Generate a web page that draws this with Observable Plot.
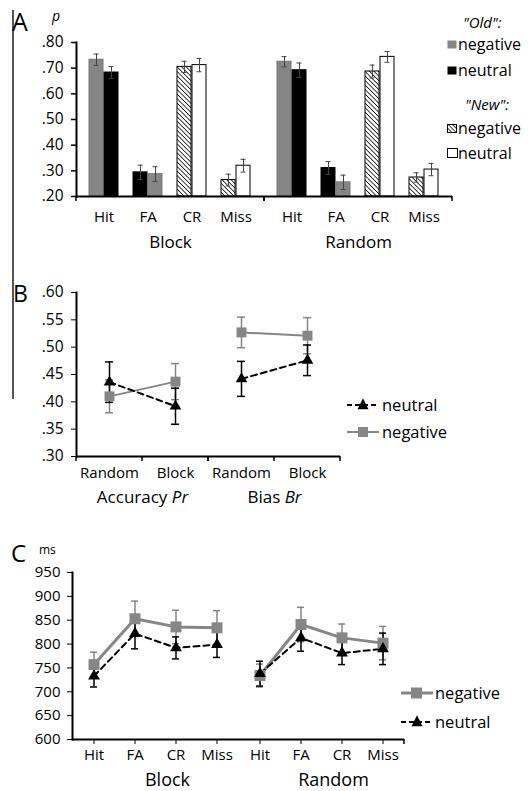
<!DOCTYPE html>
<html><head><meta charset="utf-8">
<script src="https://cdn.jsdelivr.net/npm/d3@7"></script>
<script src="https://cdn.jsdelivr.net/npm/@observablehq/plot@0.6"></script>
<style>
body{margin:0;background:#fff;font-family:"Open Sans",sans-serif;}
#root{position:relative;width:530px;height:791px;overflow:hidden;background:#fff;}
.abs{position:absolute;white-space:nowrap;color:#000;font-family:"Open Sans",sans-serif;}
</style></head><body><div id="root"></div>
<script>
// ---------- Panel A: proportions ----------
const groupsA = ["Block", "Random"];
const responsesA = ["Hit", "FA", "CR", "Miss"];
const responseTypeA = ["old", "old", "new", "new"];
const leftEmotionA = ["negative", "neutral", "negative", "negative"];
const negBlockA = [0.733, 0.287, 0.705, 0.264];
const neuBlockA = [0.683, 0.294, 0.712, 0.320];
const negRandomA = [0.725, 0.255, 0.687, 0.274];
const neuRandomA = [0.692, 0.311, 0.744, 0.305];
const errNegBlockA = [0.022, 0.029, 0.022, 0.023];
const errNeuBlockA = [0.023, 0.028, 0.026, 0.025];
const errNegRandomA = [0.020, 0.028, 0.025, 0.018];
const errNeuRandomA = [0.028, 0.025, 0.021, 0.024];
const yTicksA = [0.2, 0.3, 0.4, 0.5, 0.6, 0.7, 0.8];

// ---------- Panel B: Pr / Br ----------
const measuresB = ["Accuracy", "Bias"];
const measureNamesB = ["Accuracy", "Bias"];
const measureSymbolsB = ["Pr", "Br"];
const conditionsB = ["Random", "Block"];
const neuAccuracyB = [0.436, 0.392];
const neuBiasB = [0.442, 0.476];
const negAccuracyB = [0.410, 0.437];
const negBiasB = [0.527, 0.521];
const errNeuAccuracyB = [0.037, 0.033];
const errNeuBiasB = [0.032, 0.028];
const errNegAccuracyB = [0.030, 0.033];
const errNegBiasB = [0.028, 0.033];
const yTicksB = [0.30, 0.35, 0.40, 0.45, 0.50, 0.55, 0.60];

// ---------- Panel C: RTs ----------
const groupsC = ["Block", "Random"];
const responsesC = ["Hit", "FA", "CR", "Miss"];
const negBlockC = [757, 853, 836, 834];
const negRandomC = [734, 841, 813, 802];
const neuBlockC = [733, 822, 792, 799];
const neuRandomC = [738, 813, 781, 790];
const errNegBlockC = [26, 37, 35, 36];
const errNegRandomC = [24, 36, 29, 35];
const errNeuBlockC = [23, 32, 23, 27];
const errNeuRandomC = [26, 28, 24, 33];
const yTicksC = [600, 650, 700, 750, 800, 850, 900, 950];

const GRAY = "#868686";
const FONT = "'Open Sans', sans-serif";
const fmtDot = d => d.toFixed(2).slice(1);

// ---------- build rows ----------
const rowsA = [];
groupsA.forEach(group => {
  const neg = group === "Block" ? negBlockA : negRandomA;
  const neu = group === "Block" ? neuBlockA : neuRandomA;
  const eNeg = group === "Block" ? errNegBlockA : errNegRandomA;
  const eNeu = group === "Block" ? errNeuBlockA : errNeuRandomA;
  responsesA.forEach((response, i) => {
    ["negative", "neutral"].forEach(emotion => {
      rowsA.push({
        group, response, emotion, type: responseTypeA[i],
        side: emotion === leftEmotionA[i] ? "left" : "right",
        value: emotion === "negative" ? neg[i] : neu[i],
        err: emotion === "negative" ? eNeg[i] : eNeu[i]
      });
    });
  });
});
const fillA = d => d.type === "old" ? (d.emotion === "negative" ? GRAY : "#000")
                                    : (d.emotion === "negative" ? "url(#hatchA)" : "#fff");
const strokeA = d => d.type === "old" && d.emotion === "negative" ? "#777" : "#000";
const leftA = rowsA.filter(d => d.side === "left");
const rightA = rowsA.filter(d => d.side === "right");

const rowsB = [];
measuresB.forEach((measure, m) => conditionsB.forEach((condition, i) => {
  rowsB.push({measure, condition, emotion: "negative",
    value: (m ? negBiasB : negAccuracyB)[i], err: (m ? errNegBiasB : errNegAccuracyB)[i]});
  rowsB.push({measure, condition, emotion: "neutral",
    value: (m ? neuBiasB : neuAccuracyB)[i], err: (m ? errNeuBiasB : errNeuAccuracyB)[i]});
}));
const negB = rowsB.filter(d => d.emotion === "negative");
const neuB = rowsB.filter(d => d.emotion === "neutral");

const rowsC = [];
groupsC.forEach(group => responsesC.forEach((response, i) => {
  const b = group === "Block";
  rowsC.push({group, response, emotion: "negative", value: (b ? negBlockC : negRandomC)[i], err: (b ? errNegBlockC : errNegRandomC)[i]});
  rowsC.push({group, response, emotion: "neutral", value: (b ? neuBlockC : neuRandomC)[i], err: (b ? errNeuBlockC : errNeuRandomC)[i]});
}));
const negC = rowsC.filter(d => d.emotion === "negative");
const neuC = rowsC.filter(d => d.emotion === "neutral");

// ---------- helpers ----------
function bandEdgeTicks(allBands) {
  return (index, scales, values, dims) => {
    const x = scales.x;
    const [r0, r1] = x.range();
    const y0 = dims.height - dims.marginBottom;
    const xs = allBands ? x.domain().map(d => x(d)).concat([r1]) : [r0, r1];
    const g = d3.create("svg:g").attr("stroke", "#000").attr("stroke-width", 1.5);
    xs.forEach(v => g.append("line").attr("x1", v).attr("x2", v).attr("y1", y0).attr("y2", y0 + 5));
    return g.node();
  };
}
// tick at the far right end of the axis (drawn only in the last facet)
function lastEdgeTick(nFacets) {
  let calls = 0;
  return (index, scales, values, dims) => {
    calls++;
    const g = d3.create("svg:g").attr("stroke", "#000").attr("stroke-width", 1.5);
    if (calls % nFacets === 0) {
      const r1 = scales.x.range()[1];
      const y0 = dims.height - dims.marginBottom;
      g.append("line").attr("x1", r1).attr("x2", r1).attr("y1", y0).attr("y2", y0 + 5);
    }
    return g.node();
  };
}
function errorMarks(data, opts, color, dx, capInsetL, capInsetR, width) {
  return [
    Plot.ruleX(data, {...opts, y1: d => d.value - d.err, y2: d => d.value + d.err, dx, stroke: color, strokeWidth: width}),
    Plot.tickY(data, {...opts, y: d => d.value + d.err, insetLeft: capInsetL, insetRight: capInsetR, stroke: color, strokeWidth: width}),
    Plot.tickY(data, {...opts, y: d => d.value - d.err, insetLeft: capInsetL, insetRight: capInsetR, stroke: color, strokeWidth: width})
  ];
}

const root = document.getElementById("root");

// ---------- Plot A ----------
const plotA = Plot.plot({
  width: 530, height: 250,
  marginLeft: 75, marginRight: 78, marginTop: 42, marginBottom: 54,
  style: {fontFamily: FONT, background: "transparent", overflow: "visible"},
  fx: {domain: groupsA, padding: 0},
  x: {domain: responsesA, paddingInner: 0.333, paddingOuter: 0.26},
  y: {domain: [yTicksA[0], yTicksA[yTicksA.length - 1]]},
  color: {type: "identity"},
  marks: [
    Plot.barY(leftA, {fx: "group", x: "response", y1: yTicksA[0], y2: "value", fill: fillA, stroke: strokeA, strokeWidth: 1, insetRight: 15}),
    Plot.barY(rightA, {fx: "group", x: "response", y1: yTicksA[0], y2: "value", fill: fillA, stroke: strokeA, strokeWidth: 1, insetLeft: 15}),
    ...errorMarks(leftA, {fx: "group", x: "response"}, "#444", -7.5, 4.5, 19.5, 1),
    ...errorMarks(rightA, {fx: "group", x: "response"}, "#444", 7.5, 19.5, 4.5, 1),
    Plot.ruleY([yTicksA[0]], {stroke: "#000", strokeWidth: 2}),
    Plot.frame({anchor: "left", facetAnchor: "left", stroke: "#000", strokeWidth: 2}),
    bandEdgeTicks(false),
    Plot.axisY({ticks: yTicksA, tickFormat: fmtDot, tickSize: 5, tickPadding: 8, fontSize: 15.5, label: null, strokeWidth: 1.5}),
    Plot.axisX({tickSize: 0, tickPadding: 15, fontSize: 15, label: null}),
    Plot.axisFx({anchor: "bottom", tickSize: 0, tickPadding: 39, fontSize: 17, label: null})
  ]
});
const defs = d3.select(plotA).insert("defs", ":first-child");
const pat = defs.append("pattern").attr("id", "hatchA").attr("patternUnits", "userSpaceOnUse")
  .attr("width", 3.2).attr("height", 3.2).attr("patternTransform", "rotate(-45)");
pat.append("rect").attr("width", 3.2).attr("height", 3.2).attr("fill", "#fff");
pat.append("line").attr("x1", 0).attr("y1", 0).attr("x2", 0).attr("y2", 3.2).attr("stroke", "#000").attr("stroke-width", 1.5);
plotA.style.position = "absolute"; plotA.style.left = "0px"; plotA.style.top = "0px";
root.appendChild(plotA);

// ---------- Plot B ----------
const plotB = Plot.plot({
  width: 530, height: 240,
  marginLeft: 76, marginRight: 190, marginTop: 32, marginBottom: 44,
  style: {fontFamily: FONT, background: "transparent", overflow: "visible"},
  fx: {domain: measuresB, padding: 0},
  x: {domain: conditionsB, padding: 0},
  y: {domain: [yTicksB[0], yTicksB[yTicksB.length - 1]]},
  marks: [
    ...errorMarks(negB, {fx: "measure", x: "condition"}, GRAY, 0, 29, 29, 1.5),
    ...errorMarks(neuB, {fx: "measure", x: "condition"}, "#000", 0, 29, 29, 1.5),
    Plot.line(negB, {fx: "measure", x: "condition", y: "value", stroke: GRAY, strokeWidth: 2}),
    Plot.line(neuB, {fx: "measure", x: "condition", y: "value", stroke: "#000", strokeWidth: 2, strokeDasharray: "6,4"}),
    Plot.dot(negB, {fx: "measure", x: "condition", y: "value", symbol: "square", r: 5.6, fill: GRAY, stroke: null}),
    Plot.dot(neuB, {fx: "measure", x: "condition", y: "value", symbol: "triangle", r: 4.3, fill: "#000", stroke: null}),
    Plot.ruleY([yTicksB[0]], {stroke: "#000", strokeWidth: 2}),
    Plot.frame({anchor: "left", facetAnchor: "left", stroke: "#000", strokeWidth: 2}),
    bandEdgeTicks(true),
    Plot.axisY({ticks: yTicksB, tickFormat: fmtDot, tickSize: 5, tickPadding: 8, fontSize: 15.5, label: null}),
    Plot.axisX({tickSize: 0, tickPadding: 11, fontSize: 15, label: null}),
    Plot.axisFx({anchor: "bottom", tickSize: 0, tickPadding: 34,
      tickFormat: d => measureNamesB[measuresB.indexOf(d)] + " " + measureSymbolsB[measuresB.indexOf(d)],
      fontSize: 17, label: null})
  ]
});
d3.select(plotB).selectAll("text").each(function () {
  const t = this.textContent;
  const i = measureNamesB.findIndex((n, k) => t === n + " " + measureSymbolsB[k]);
  if (i >= 0) {
    const s = d3.select(this);
    s.text(null);
    s.append("tspan").text(measureNamesB[i] + " ");
    s.append("tspan").attr("font-style", "italic").text(measureSymbolsB[i]);
  }
});
plotB.style.position = "absolute"; plotB.style.left = "0px"; plotB.style.top = "260px";
root.appendChild(plotB);

// ---------- Plot C ----------
const plotC = Plot.plot({
  width: 530, height: 251,
  marginLeft: 72, marginRight: 126, marginTop: 32, marginBottom: 52,
  style: {fontFamily: FONT, background: "transparent", overflow: "visible"},
  fx: {domain: groupsC, padding: 0},
  x: {domain: responsesC, padding: 0},
  y: {domain: [yTicksC[0], yTicksC[yTicksC.length - 1]]},
  marks: [
    ...errorMarks(negC, {fx: "group", x: "response"}, GRAY, 0, 17, 17, 1.5),
    ...errorMarks(neuC, {fx: "group", x: "response"}, "#000", 0, 17, 17, 1.5),
    Plot.line(negC, {fx: "group", x: "response", y: "value", stroke: GRAY, strokeWidth: 3}),
    Plot.line(neuC, {fx: "group", x: "response", y: "value", stroke: "#000", strokeWidth: 2, strokeDasharray: "6,4"}),
    Plot.dot(negC, {fx: "group", x: "response", y: "value", symbol: "square", r: 6.2, fill: GRAY, stroke: null}),
    Plot.dot(neuC, {fx: "group", x: "response", y: "value", symbol: "triangle", r: 4.4, fill: "#000", stroke: null}),
    Plot.ruleY([yTicksC[0]], {stroke: "#000", strokeWidth: 2}),
    Plot.frame({anchor: "left", facetAnchor: "left", stroke: "#000", strokeWidth: 2}),
    lastEdgeTick(groupsC.length),
    Plot.axisY({ticks: yTicksC, tickSize: 5, tickPadding: 7, fontSize: 15, label: null}),
    Plot.axisX({tickSize: 5, tickPadding: 5, fontSize: 15, label: null}),
    Plot.axisFx({anchor: "bottom", tickSize: 0, tickPadding: 34, dx: 12, fontSize: 18, label: null})
  ]
});
plotC.style.position = "absolute"; plotC.style.left = "0px"; plotC.style.top = "540px";
root.appendChild(plotC);

// ---------- overlays: panel letters, units, legends ----------
function addText(txt, left, centerY, size, italic) {
  const el = document.createElement("div");
  el.className = "abs";
  el.textContent = txt;
  el.style.left = left + "px";
  el.style.top = (centerY - size * 0.58) + "px";
  el.style.fontSize = size + "px";
  el.style.lineHeight = (size * 1.16) + "px";
  if (italic) el.style.fontStyle = "italic";
  root.appendChild(el);
}
function addSvg(left, top, w, h, inner) {
  const el = document.createElement("div");
  el.className = "abs";
  el.style.left = left + "px"; el.style.top = top + "px";
  el.innerHTML = `<svg width="${w}" height="${h}" style="display:block;overflow:visible">${inner}</svg>`;
  root.appendChild(el);
}
const bar = document.createElement("div");
bar.className = "abs";
Object.assign(bar.style, {left: "12px", top: "10px", width: "1.5px", height: "389px", background: "#555"});
root.appendChild(bar);

addText("A", 12, 21, 25);
addText("p", 52, 16, 14, true);
addText("B", 13, 293, 23);
addText("C", 11, 553, 24);
addText("ms", 39, 550, 12);

// Legend A
addText("\"Old\":", 463, 22.5, 15, true);
addSvg(447, 40, 10, 9, `<rect x="0.5" y="0.5" width="9" height="8" fill="${GRAY}"/>`);
addText("negative", 458, 44.5, 16);
addSvg(447, 66, 10, 9, `<rect x="0.5" y="0.5" width="9" height="8" fill="#000"/>`);
addText("neutral", 458, 70.5, 16);
addText("\"New\":", 465, 104.5, 15, true);
addSvg(447, 124, 10, 9, `<defs><pattern id="hatchL" patternUnits="userSpaceOnUse" width="3" height="3" patternTransform="rotate(-45)"><rect width="3" height="3" fill="#fff"/><line x1="0" y1="0" x2="0" y2="3" stroke="#000" stroke-width="1.5"/></pattern></defs><rect x="0.5" y="0.5" width="9" height="8" fill="url(#hatchL)" stroke="#000" stroke-width="1"/>`);
addText("negative", 458, 128.5, 16);
addSvg(447, 148, 11, 10, `<rect x="0.5" y="0.5" width="10" height="9" fill="#fff" stroke="#000" stroke-width="1"/>`);
addText("neutral", 458, 153, 16);

// Legend B
const tri = (cx, cy, s) => `<path d="M${cx},${cy - s * 0.62} L${cx + s / 2},${cy + s * 0.38} L${cx - s / 2},${cy + s * 0.38}Z" fill="#000"/>`;
addSvg(346, 398, 34, 14, `<line x1="1" y1="7" x2="33" y2="7" stroke="#000" stroke-width="2" stroke-dasharray="5,3"/>${tri(17, 7, 11)}`);
addText("neutral", 382, 405, 16.5);
addSvg(346, 425, 34, 14, `<line x1="1" y1="7" x2="33" y2="7" stroke="${GRAY}" stroke-width="2"/><rect x="12" y="2" width="10" height="10" fill="${GRAY}"/>`);
addText("negative", 382, 432, 16.5);

// Legend C
addSvg(400, 686, 34, 14, `<line x1="1" y1="7" x2="33" y2="7" stroke="${GRAY}" stroke-width="3"/><rect x="11" y="1.5" width="11" height="11" fill="${GRAY}"/>`);
addText("negative", 435, 693, 16.5);
addSvg(400, 715, 34, 14, `<line x1="1" y1="7" x2="33" y2="7" stroke="#000" stroke-width="2" stroke-dasharray="5,3"/>${tri(17, 7, 11)}`);
addText("neutral", 435, 722, 16.5);
</script></body></html>
